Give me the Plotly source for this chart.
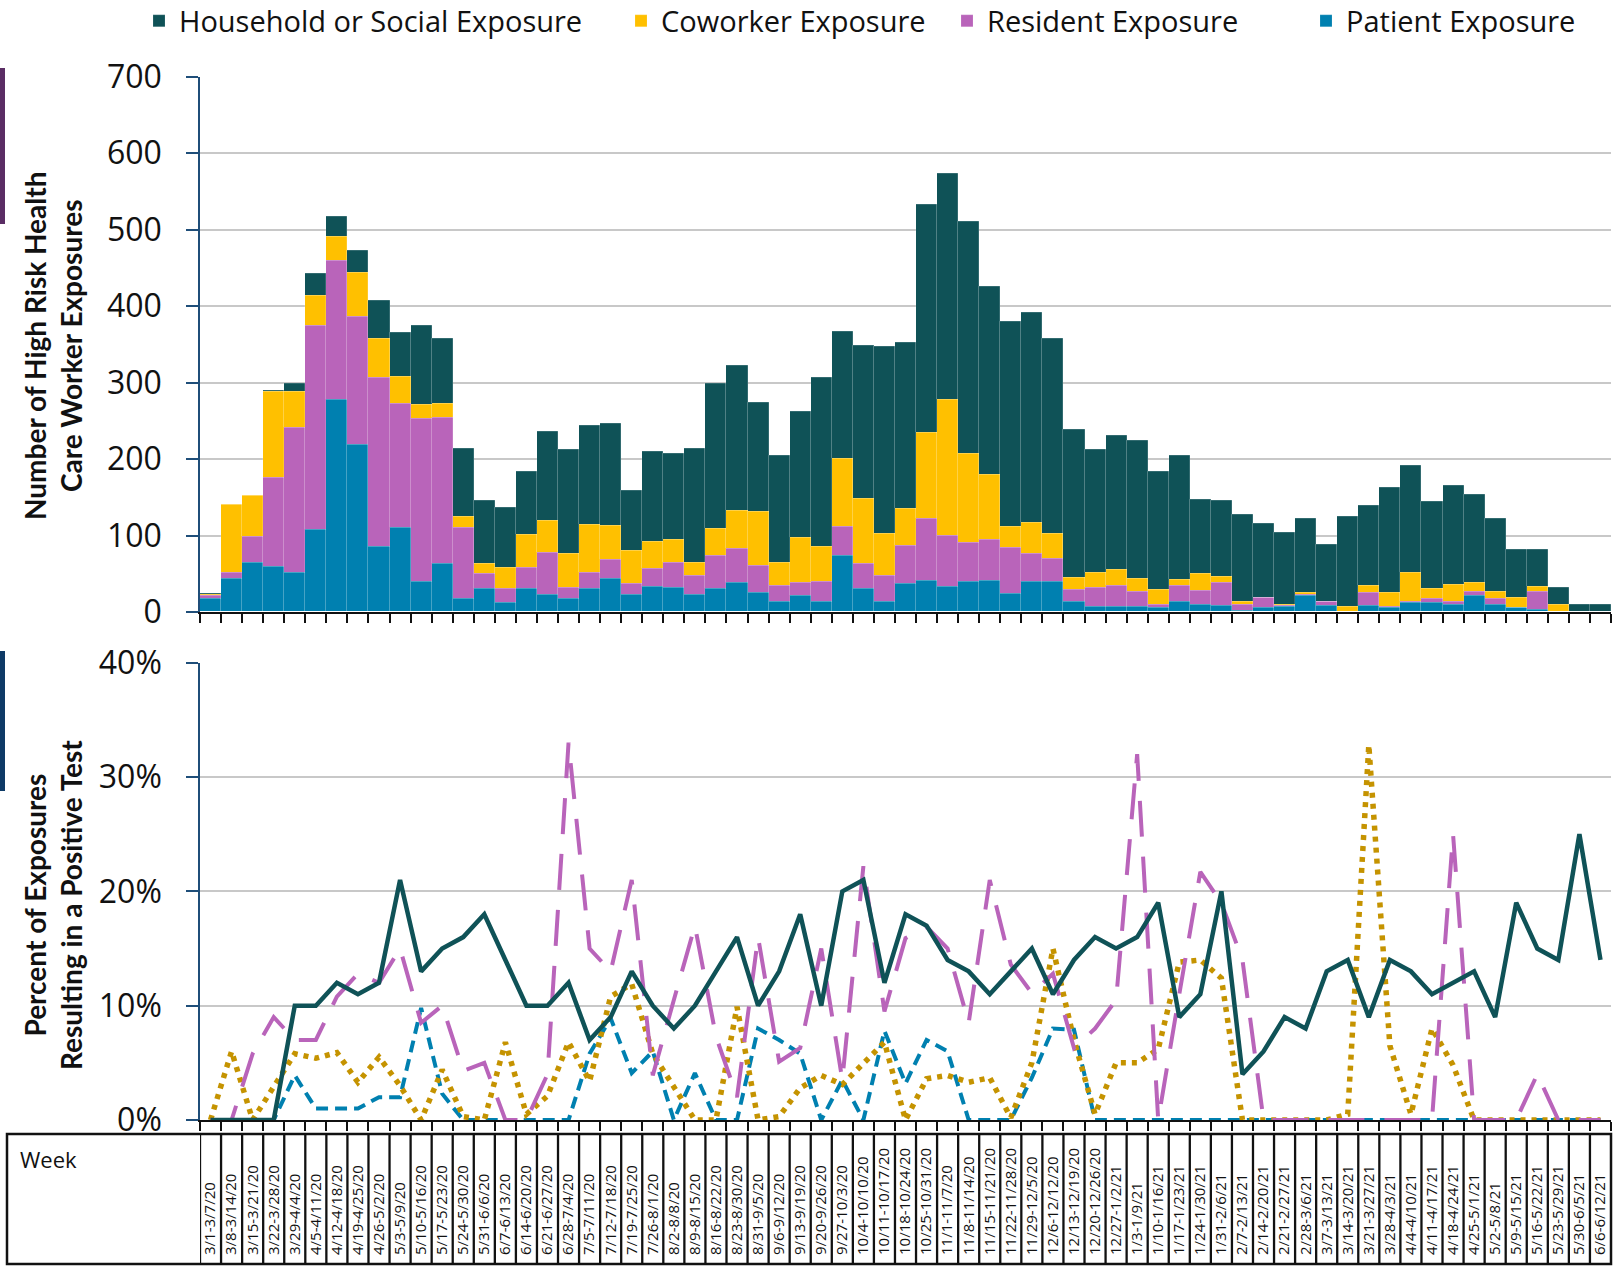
import plotly.graph_objects as go

W, H = 1616, 1266

weeks = [
    "3/1-3/7/20", "3/8-3/14/20", "3/15-3/21/20", "3/22-3/28/20", "3/29-4/4/20",
    "4/5-4/11/20", "4/12-4/18/20", "4/19-4/25/20", "4/26-5/2/20", "5/3-5/9/20",
    "5/10-5/16/20", "5/17-5/23/20", "5/24-5/30/20", "5/31-6/6/20", "6/7-6/13/20",
    "6/14-6/20/20", "6/21-6/27/20", "6/28-7/4/20", "7/5-7/11/20", "7/12-7/18/20",
    "7/19-7/25/20", "7/26-8/1/20", "8/2-8/8/20", "8/9-8/15/20", "8/16-8/22/20",
    "8/23-8/30/20", "8/31-9/5/20", "9/6-9/12/20", "9/13-9/19/20", "9/20-9/26/20",
    "9/27-10/3/20", "10/4-10/10/20", "10/11-10/17/20", "10/18-10/24/20", "10/25-10/31/20",
    "11/1-11/7/20", "11/8-11/14/20", "11/15-11/21/20", "11/22-11/28/20", "11/29-12/5/20",
    "12/6-12/12/20", "12/13-12/19/20", "12/20-12/26/20", "12/27-1/2/21", "1/3-1/9/21",
    "1/10-1/16/21", "1/17-1/23/21", "1/24-1/30/21", "1/31-2/6/21", "2/7-2/13/21",
    "2/14-2/20/21", "2/21-2/27/21", "2/28-3/6/21", "3/7-3/13/21", "3/14-3/20/21",
    "3/21-3/27/21", "3/28-4/3/21", "4/4-4/10/21", "4/11-4/17/21", "4/18-4/24/21",
    "4/25-5/1/21", "5/2-5/8/21", "5/9-5/15/21", "5/16-5/22/21", "5/23-5/29/21",
    "5/30-6/5/21", "6/6-6/12/21",
]

# Exposure counts (stacked bars)
patient_cnt = [18, 43, 65, 59, 52, 108, 278, 219, 85, 110, 39, 63, 17, 30, 12, 30, 22, 18, 31, 44,
               22, 33, 32, 23, 31, 38, 25, 13, 21, 13, 74, 30, 13, 37, 41, 33, 39, 41, 24, 39,
               39, 13, 7, 7, 7, 5, 14, 10, 8, 2, 5, 7, 21, 8, 1, 8, 5, 12, 12, 10,
               21, 9, 5, 3, 0, 0, 0]
resident_cnt = [3, 9, 33, 117, 189, 266, 181, 167, 221, 163, 214, 191, 93, 20, 18, 28, 56, 14, 21, 24,
                15, 24, 33, 24, 43, 45, 36, 22, 17, 26, 38, 33, 35, 50, 81, 67, 51, 53, 60, 37,
                31, 16, 25, 28, 19, 5, 21, 18, 30, 7, 14, 1, 2, 5, 0, 17, 2, 1, 6, 4,
                6, 8, 1, 24, 0, 0, 0]
coworker_cnt = [2, 88, 54, 112, 47, 40, 32, 58, 51, 35, 18, 19, 14, 13, 28, 43, 42, 44, 62, 45,
                43, 35, 30, 18, 35, 50, 70, 30, 59, 46, 88, 85, 55, 48, 113, 178, 117, 85, 27, 41,
                33, 16, 20, 20, 18, 19, 7, 22, 8, 4, 0, 1, 2, 0, 6, 9, 18, 38, 12, 22,
                11, 9, 13, 6, 10, 0, 0]
household_cnt = [1, 0, 0, 2, 10, 29, 26, 28, 50, 57, 104, 85, 90, 82, 78, 82, 116, 136, 129, 133,
                 78, 117, 112, 148, 190, 189, 143, 140, 165, 221, 167, 200, 244, 217, 297, 295, 303, 247, 268, 275,
                 255, 193, 160, 176, 180, 154, 162, 97, 100, 114, 96, 95, 97, 75, 117, 105, 138, 140, 114, 129,
                 116, 96, 62, 48, 22, 10, 9]

# Percent of exposures resulting in a positive test (in %)
household_pct = [0, 0, 0, 0, 10, 10, 12, 11, 12, 21, 13, 15, 16, 18, 14, 10, 10, 12, 7, 9,
                 13, 10, 8, 10, 13, 16, 10, 13, 18, 10, 20, 21, 12, 18, 17, 14, 13, 11, 13, 15,
                 11, 14, 16, 15, 16, 19, 9, 11, 20, 4, 6, 9, 8, 13, 14, 9, 14, 13, 11, 12,
                 13, 9, 19, 15, 14, 25, 14]
coworker_pct = [0, 6, 0, 3, 5.8, 5.4, 5.9, 3.3, 5.5, 3.0, 0, 4.4, 0.3, 0, 6.8, 0.5, 2.1, 6.8, 3.4, 10.8,
                11.9, 5.8, 2.9, 0, 0, 9.9, 0, 0.3, 2.8, 3.9, 3.1, 5.0, 6.8, 0, 3.6, 3.9, 3.3, 3.7, 0.2, 5,
                15, 7, 0.5, 5, 5, 6.2, 13.8, 14, 12.4, 0, 0, 0, 0, 0, 0.5, 32.8, 6.5, 0.5, 8, 4.8,
                0, 0, 0, 0, 0, 0, 0]
resident_pct = [0, 0, 5.8, 9, 7, 7, 10.8, 12.8, 12, 15, 8.5, 10, 4.3, 5, 0, 0, 4, 33, 15, 13,
                21, 3.9, 10.5, 17, 7.3, 2, 16, 5.1, 6.3, 15, 3.5, 22.2, 9.5, 15.9, 16.9, 15, 8.5, 21, 13.6, 11.1,
                12.8, 6.3, 8, 10.5, 32, 0, 11, 21.7, 19, 14, 0, 0, 0, 0, 0, 0, 0, 0, 0, 25,
                0, 0, 0, 4, 0, 0, 0]
patient_pct = [0, 0, 0, 0, 3.9, 1, 1, 1, 2, 2, 9.8, 2.3, 0, 0, 0, 0, 0, 0, 5.8, 8.9,
               4.1, 6, 0, 4.1, 0, 0, 8, 7, 5.8, 0, 3.5, 0, 7.8, 3.2, 7, 6, 0, 0, 0, 3.7,
               8, 7.9, 0, 0, 0, 0, 0, 0, 0, 0, 0, 0, 0, 0, 0, 0, 0, 0, 0, 0,
               0, 0, 0, 0, 0, 0, 0]

C_HOUSE = "#0F5257"
C_COW = "#FFC000"
C_RES = "#B964BA"
C_PAT = "#0080B0"
C_COW_LINE = "#C59300"
NAVY = "#1F4E79"
GRID = "#C8C8C8"


def px_x(v):
    return v / W


def px_y(v):
    return (H - v) / H


fig = go.Figure()

bar_specs = [
    ("Patient Exposure", patient_cnt, C_PAT, "legend4"),
    ("Resident Exposure", resident_cnt, C_RES, "legend3"),
    ("Coworker Exposure", coworker_cnt, C_COW, "legend2"),
    ("Household or Social Exposure", household_cnt, C_HOUSE, "legend"),
]
for name, vals, col, lg in bar_specs:
    fig.add_trace(go.Bar(
        x=weeks, y=vals, name=name,
        marker=dict(color=col, line=dict(color="rgba(255,255,255,0.3)", width=0.5)),
        xaxis="x", yaxis="y", legend=lg,
    ))

pct = lambda arr: [v / 100 for v in arr]
fig.add_trace(go.Scatter(x=weeks, y=pct(patient_pct), mode="lines", showlegend=False,
                         line=dict(color=C_PAT, width=4, dash="12px,7px"), xaxis="x2", yaxis="y2"))
fig.add_trace(go.Scatter(x=weeks, y=pct(coworker_pct), mode="lines", showlegend=False,
                         line=dict(color=C_COW_LINE, width=5.5, dash="5px,6px"), xaxis="x2", yaxis="y2"))
fig.add_trace(go.Scatter(x=weeks, y=pct(resident_pct), mode="lines", showlegend=False,
                         line=dict(color=C_RES, width=4, dash="36px,20px"), xaxis="x2", yaxis="y2"))
fig.add_trace(go.Scatter(x=weeks, y=pct(household_pct), mode="lines", showlegend=False,
                         line=dict(color=C_HOUSE, width=4.5), xaxis="x2", yaxis="y2"))
# carrier for the week-label axis in the table (draws nothing)
fig.add_trace(go.Scatter(x=weeks, y=household_pct, mode="none", showlegend=False, hoverinfo="skip",
                         xaxis="x3", yaxis="y3"))

x_dom = [px_x(200), px_x(1611)]
tickfont = dict(family="Open Sans", size=32, color="#111111")

xaxis_common = dict(
    domain=x_dom, type="category", range=[-0.5, len(weeks) - 0.5],
    showticklabels=False, ticks="outside", tickson="boundaries", ticklen=9, tickwidth=1.5,
    tickcolor="#111111", showline=True, linecolor="#111111", linewidth=1.5,
    showgrid=False, zeroline=False, automargin=False, fixedrange=True,
)
yaxis_common = dict(
    tickfont=tickfont, ticks="outside", ticklen=12, tickwidth=1.5, tickcolor=NAVY,
    showline=True, linecolor=NAVY, linewidth=1.5, showgrid=True, gridcolor=GRID,
    gridwidth=1.5, zeroline=False, automargin=False, ticklabelstandoff=18,
)
fig.update_layout(
    xaxis=dict(xaxis_common, anchor="y"),
    xaxis2=dict(xaxis_common, anchor="y2"),
    xaxis3=dict(domain=x_dom, type="category", range=[-0.5, len(weeks) - 0.5], anchor="y3",
                side="top", showline=False, ticks="", showgrid=False, zeroline=False,
                tickangle=-90, tickfont=dict(family="Open Sans", size=15, color="#111111"),
                automargin=False, ticklabelstandoff=0),
    yaxis=dict(yaxis_common, domain=[px_y(612), px_y(76.7)], range=[0, 700], dtick=100, anchor="x"),
    yaxis2=dict(yaxis_common, domain=[px_y(1120), px_y(662.7)], range=[0, 0.40], dtick=0.10,
                tickformat=".0%", anchor="x2"),
    yaxis3=dict(domain=[px_y(1262), px_y(1256)], visible=False, anchor="x3"),
    barmode="stack", bargap=0,
    width=W, height=H, autosize=False,
    margin=dict(l=0, r=0, t=0, b=0, autoexpand=False),
    paper_bgcolor="white", plot_bgcolor="white",
)

leg_font = dict(family="Open Sans", size=29, color="#111111")
leg_x = [139, 621, 947, 1306]
for key, xp in zip(["legend", "legend2", "legend3", "legend4"], leg_x):
    fig.update_layout({key: dict(x=px_x(xp), y=px_y(21), xanchor="left", yanchor="middle",
                                 orientation="h", font=leg_font, bgcolor="rgba(0,0,0,0)",
                                 borderwidth=0)})

annotations = []
title_font = dict(family="Lato", size=28, color="#111111")
annotations.append(dict(text="<b>Number of High Risk Health<br>Care Worker Exposures</b>",
                        x=px_x(53), y=px_y(346), xref="paper", yref="paper", textangle=-90,
                        showarrow=False, font=title_font, xanchor="center", yanchor="middle"))
annotations.append(dict(text="<b>Percent of Exposures<br>Resulting in a Positive Test</b>",
                        x=px_x(53), y=px_y(905), xref="paper", yref="paper", textangle=-90,
                        showarrow=False, font=title_font, xanchor="center", yanchor="middle"))
annotations.append(dict(text="Week", x=px_x(18), y=px_y(1142), xref="paper", yref="paper",
                        showarrow=False, font=dict(family="Open Sans", size=22, color="#111111"),
                        xanchor="left", yanchor="top"))
fig.update_layout(annotations=annotations)

shapes = []
# decorative side bars
shapes.append(dict(type="rect", xref="paper", yref="paper", x0=0, x1=px_x(5), y0=px_y(224), y1=px_y(68),
                   fillcolor="#5A2D64", line=dict(width=0)))
shapes.append(dict(type="rect", xref="paper", yref="paper", x0=0, x1=px_x(5), y0=px_y(791), y1=px_y(651),
                   fillcolor="#0E3A66", line=dict(width=0)))
# week table
shapes.append(dict(type="rect", xref="paper", yref="paper", x0=px_x(7), x1=px_x(1611), y0=px_y(1264),
                   y1=px_y(1134), line=dict(color="#111111", width=2.5), fillcolor="rgba(0,0,0,0)"))
for i in range(len(weeks)):
    shapes.append(dict(type="line", xref="x2", yref="paper", x0=i - 0.5, x1=i - 0.5,
                       y0=px_y(1264), y1=px_y(1134), line=dict(color="#111111", width=2.3)))
fig.update_layout(shapes=shapes)

fig.write_html("out.html", config={"displayModeBar": False},
               post_script="document.body.style.margin='0px';")
